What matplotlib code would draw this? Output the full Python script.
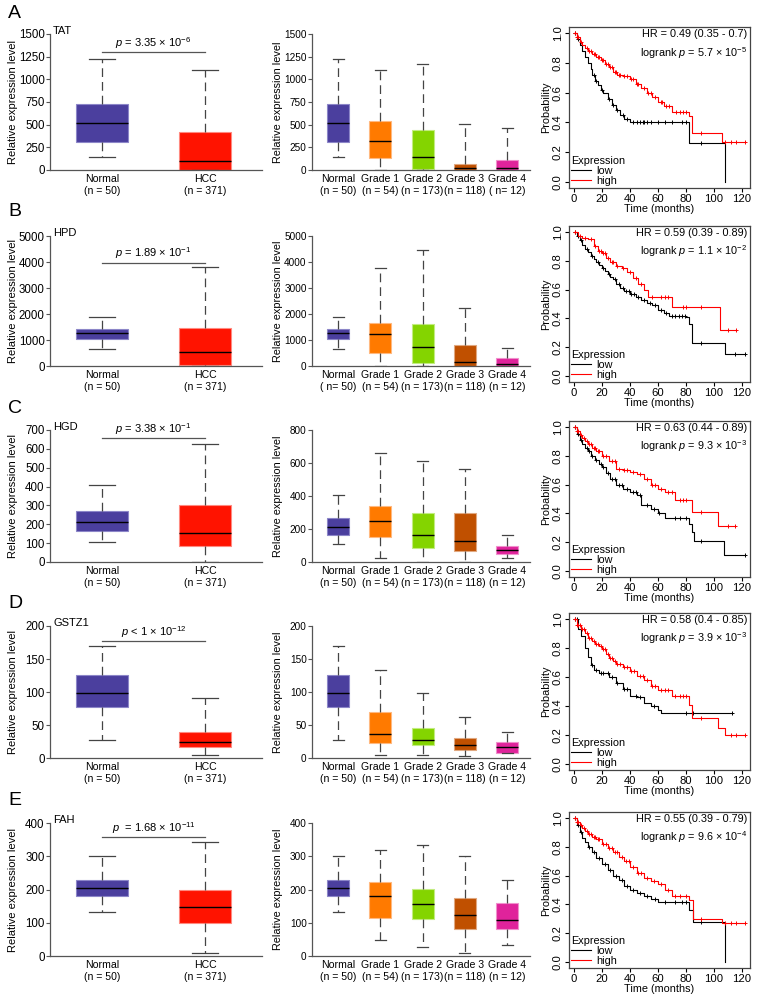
import matplotlib
matplotlib.use("Agg")
import matplotlib.pyplot as plt
from matplotlib.lines import Line2D
import numpy as np

plt.rcParams['font.family'] = ['Liberation Sans', 'DejaVu Sans']
plt.rcParams['mathtext.fontset'] = 'custom'
plt.rcParams['mathtext.rm'] = 'Liberation Sans'
plt.rcParams['mathtext.it'] = 'Liberation Sans:italic'

W, H = 759, 997

# ---------------- data ----------------
panel_letters = ["A", "B", "C", "D", "E"]
genes = ["TAT", "HPD", "HGD", "GSTZ1", "FAH"]

p_texts = [
    r"$p$ = 3.35 × 10$^{-6}$",
    r"$p$ = 1.89 × 10$^{-1}$",
    r"$p$ = 3.38 × 10$^{-1}$",
    r"$p$ < 1 × 10$^{-12}$",
    r"$p$  = 1.68 × 10$^{-11}$",
]
p_line_y = [1300, 3960, 655, 177, 357]

tissue_labels = ["Normal\n(n = 50)", "HCC\n(n = 371)"]
grade_labels = [
    ["Normal\n(n = 50)", "Grade 1\n(n = 54)", "Grade 2\n(n = 173)", "Grade 3\n(n = 118)", "Grade 4\n( n= 12)"],
    ["Normal\n( n= 50)", "Grade 1\n(n = 54)", "Grade 2\n(n = 173)", "Grade 3\n(n = 118)", "Grade 4\n(n = 12)"],
    ["Normal\n(n = 50)", "Grade 1\n(n = 54)", "Grade 2\n(n = 173)", "Grade 3\n(n = 118)", "Grade 4\n(n = 12)"],
    ["Normal\n(n = 50)", "Grade 1\n(n = 54)", "Grade 2\n(n = 173)", "Grade 3\n(n = 118)", "Grade 4\n(n = 12)"],
    ["Normal\n(n = 50)", "Grade 1\n(n = 54)", "Grade 2\n(n = 173)", "Grade 3\n(n = 118)", "Grade 4\n(n = 12)"],
]

# box stats: (whislo, q1, median, q3, whishi)
tat_tissue = [(145, 305, 515, 725, 1225), (0, 0, 100, 415, 1100)]
tat_grade = [(145, 305, 515, 725, 1225), (0, 130, 315, 545, 1100), (0, 15, 140, 445, 1165),
             (0, 0, 25, 70, 505), (0, 0, 20, 110, 460)]
hpd_tissue = [(670, 1030, 1260, 1420, 1890), (0, 40, 530, 1480, 3800)]
hpd_grade = [(670, 1030, 1260, 1420, 1890), (0, 500, 1220, 1640, 3760), (0, 130, 720, 1610, 4450),
             (0, 0, 170, 820, 2240), (0, 0, 90, 295, 700)]
hgd_tissue = [(105, 163, 211, 271, 410), (0, 87, 156, 300, 624)]
hgd_grade = [(107, 163, 213, 267, 408), (22, 153, 251, 342, 659), (0, 84, 165, 297, 613),
             (0, 66, 125, 297, 563), (26, 48, 72, 100, 163)]
gstz1_tissue = [(27, 78, 99, 126, 170), (4, 16, 25, 39, 91)]
gstz1_grade = [(27, 78, 99, 126, 170), (4, 23, 37, 70, 133), (4, 19, 27, 46, 98),
               (3, 12, 19, 31, 62), (7, 8, 17, 24, 40)]
fah_tissue = [(133, 179, 205, 229, 300), (8, 98, 147, 198, 343)]
fah_grade = [(133, 179, 206, 230, 302), (47, 115, 181, 224, 318), (26, 111, 157, 202, 335),
             (8, 82, 123, 175, 300), (33, 82, 109, 159, 230)]

tissue_stats = [tat_tissue, hpd_tissue, hgd_tissue, gstz1_tissue, fah_tissue]
grade_stats = [tat_grade, hpd_grade, hgd_grade, gstz1_grade, fah_grade]

tissue_ymax = [1500, 5000, 700, 200, 400]
tissue_ystep = [250, 1000, 100, 50, 100]
grade_ymax = [1500, 5000, 800, 200, 400]
grade_ystep = [250, 1000, 200, 50, 100]

tissue_colors = ["#4B3F9E", "#FF1300"]
tissue_edges = ["#8C86C8", "#FF8A80"]
grade_colors = ["#4B3F9E", "#FF7A00", "#84D400", "#C05000", "#E0239B"]
grade_edges = ["#8C86C8", "#FFB980", "#C2EC80", "#E0A880", "#F090CC"]

# Kaplan-Meier curves: step times / survival, censor times
hr_texts = ["HR = 0.49 (0.35 - 0.7)", "HR = 0.59 (0.39 - 0.89)", "HR = 0.63 (0.44 - 0.89)",
            "HR = 0.58 (0.4 - 0.85)", "HR = 0.55 (0.39 - 0.79)"]
lr_texts = [r"logrank $p$ = 5.7 × 10$^{-5}$", r"logrank $p$ = 1.1 × 10$^{-2}$",
            r"logrank $p$ = 9.3 × 10$^{-3}$", r"logrank $p$ = 3.9 × 10$^{-3}$",
            r"logrank $p$ = 9.6 × 10$^{-4}$"]

tat_low_t = [0, 2, 4, 6, 8, 10, 12, 13, 15, 17, 19, 21, 24, 27, 30, 33, 36, 40, 82, 108]
tat_low_s = [1.0, 0.96, 0.92, 0.88, 0.84, 0.80, 0.76, 0.72, 0.68, 0.65, 0.62, 0.60, 0.56, 0.52,
             0.48, 0.45, 0.42, 0.40, 0.26, 0.0]
tat_low_c = [1, 3, 14, 16, 20, 25, 28, 31, 35, 38, 42, 45, 47, 49, 50, 52, 55, 60, 65, 70, 77, 80, 91]
tat_high_t = [0, 2, 4, 6, 8, 10, 13, 16, 19, 22, 25, 28, 31, 35, 40, 44, 48, 52, 56, 60, 64, 70,
              82, 84, 106, 122]
tat_high_s = [1.0, 0.97, 0.94, 0.92, 0.90, 0.88, 0.86, 0.84, 0.82, 0.79, 0.77, 0.74, 0.72, 0.71,
              0.69, 0.66, 0.63, 0.60, 0.57, 0.54, 0.51, 0.47, 0.44, 0.33, 0.27, 0.27]
tat_high_c = [1, 2, 3, 5, 9, 11, 12, 14, 15, 17, 18, 20, 21, 23, 24, 26, 27, 29, 30, 32, 33, 36,
              38, 41, 42, 45, 46, 50, 53, 55, 58, 62, 63, 66, 68, 73, 76, 78, 80, 91, 108, 112, 116, 122]

hpd_low_t = [0, 2, 4, 6, 8, 10, 12, 14, 16, 18, 20, 22, 24, 26, 28, 30, 33, 36, 40, 44, 48, 52,
             56, 60, 64, 68, 80, 82, 84, 108, 122]
hpd_low_s = [1.0, 0.97, 0.94, 0.91, 0.88, 0.86, 0.83, 0.81, 0.79, 0.77, 0.75, 0.73, 0.71, 0.69,
             0.67, 0.64, 0.61, 0.59, 0.57, 0.55, 0.53, 0.51, 0.49, 0.46, 0.44, 0.42, 0.41, 0.36,
             0.23, 0.155, 0.155]
hpd_low_c = [1, 3, 5, 9, 13, 17, 21, 25, 29, 32, 35, 37, 39, 41, 43, 46, 50, 54, 58, 62, 66, 70,
             72, 75, 77, 79, 91, 115, 122]
hpd_high_t = [0, 3, 6, 10, 14, 17, 20, 23, 26, 30, 34, 38, 42, 46, 50, 53, 70, 104, 116]
hpd_high_s = [1.0, 0.97, 0.96, 0.95, 0.90, 0.87, 0.85, 0.82, 0.79, 0.76, 0.75, 0.72, 0.68, 0.64,
              0.60, 0.55, 0.48, 0.32, 0.32]
hpd_high_c = [1, 4, 8, 12, 15, 18, 19, 21, 22, 24, 27, 28, 31, 35, 40, 44, 48, 56, 62, 65, 67,
              78, 80, 91, 110, 116]

hgd_low_t = [0, 2, 4, 6, 8, 10, 12, 15, 18, 20, 23, 26, 30, 35, 40, 45, 48, 55, 60, 65, 82, 84,
             86, 107, 122]
hgd_low_s = [1.0, 0.95, 0.91, 0.88, 0.85, 0.83, 0.80, 0.77, 0.74, 0.72, 0.68, 0.64, 0.60, 0.57,
             0.55, 0.53, 0.46, 0.43, 0.40, 0.37, 0.33, 0.27, 0.21, 0.11, 0.11]
hgd_low_c = [1, 3, 5, 9, 11, 13, 16, 19, 21, 24, 27, 29, 32, 34, 38, 42, 44, 47, 52, 57, 61, 72,
             76, 80, 91, 122]
hgd_high_t = [0, 2, 4, 6, 8, 10, 13, 16, 20, 25, 30, 35, 40, 45, 50, 55, 60, 65, 72, 84, 103, 115]
hgd_high_s = [1.0, 0.97, 0.94, 0.92, 0.90, 0.88, 0.85, 0.83, 0.80, 0.76, 0.71, 0.70, 0.69, 0.67,
              0.64, 0.60, 0.57, 0.55, 0.49, 0.41, 0.31, 0.31]
hgd_high_c = [1, 2, 3, 5, 7, 9, 11, 12, 14, 15, 17, 18, 21, 23, 27, 29, 32, 36, 38, 42, 47, 52,
              56, 58, 62, 67, 70, 76, 78, 80, 91, 110, 115]

gstz1_low_t = [0, 3, 5, 8, 10, 12, 14, 18, 25, 30, 35, 40, 45, 50, 55, 60, 62, 113]
gstz1_low_s = [1.0, 0.93, 0.88, 0.80, 0.74, 0.68, 0.65, 0.63, 0.60, 0.56, 0.52, 0.47, 0.46, 0.42,
               0.40, 0.37, 0.35, 0.35]
gstz1_low_c = [1, 2, 13, 16, 19, 21, 24, 27, 31, 36, 38, 44, 47, 57, 80, 85, 113]
gstz1_high_t = [0, 2, 5, 8, 10, 13, 15, 18, 20, 23, 25, 28, 30, 35, 40, 45, 50, 55, 60, 70, 82,
                84, 103, 108, 122]
gstz1_high_s = [1.0, 0.96, 0.93, 0.90, 0.87, 0.85, 0.83, 0.81, 0.79, 0.76, 0.73, 0.71, 0.69, 0.67,
                0.64, 0.61, 0.58, 0.54, 0.51, 0.47, 0.41, 0.32, 0.25, 0.20, 0.20]
gstz1_high_c = [1, 2, 3, 4, 6, 7, 9, 11, 12, 14, 16, 17, 19, 21, 22, 24, 26, 27, 29, 31, 33, 36,
                38, 41, 43, 47, 49, 52, 56, 58, 62, 65, 67, 72, 76, 78, 80, 91, 112, 116, 122]

fah_low_t = [0, 2, 4, 6, 8, 10, 13, 16, 20, 24, 28, 32, 36, 40, 45, 50, 55, 60, 82, 85, 108]
fah_low_s = [1.0, 0.95, 0.90, 0.86, 0.83, 0.80, 0.76, 0.72, 0.68, 0.64, 0.60, 0.57, 0.53, 0.50,
             0.48, 0.46, 0.44, 0.42, 0.36, 0.28, 0.0]
fah_low_c = [1, 3, 5, 11, 14, 18, 22, 26, 30, 34, 38, 42, 47, 52, 58, 65, 72, 77, 80, 91]
fah_high_t = [0, 2, 4, 6, 8, 10, 13, 16, 20, 24, 28, 32, 36, 40, 45, 50, 55, 60, 65, 70, 82, 85,
              106, 122]
fah_high_s = [1.0, 0.97, 0.95, 0.93, 0.91, 0.89, 0.87, 0.85, 0.82, 0.79, 0.76, 0.73, 0.70, 0.66,
              0.62, 0.58, 0.56, 0.54, 0.50, 0.46, 0.43, 0.30, 0.27, 0.27]
fah_high_c = [1, 2, 3, 5, 7, 9, 11, 12, 14, 15, 17, 18, 21, 23, 25, 27, 29, 31, 34, 37, 39, 42,
              46, 48, 52, 57, 62, 67, 72, 76, 80, 91, 108, 112, 116, 122]

km_low = [(tat_low_t, tat_low_s, tat_low_c), (hpd_low_t, hpd_low_s, hpd_low_c),
          (hgd_low_t, hgd_low_s, hgd_low_c), (gstz1_low_t, gstz1_low_s, gstz1_low_c),
          (fah_low_t, fah_low_s, fah_low_c)]
km_high = [(tat_high_t, tat_high_s, tat_high_c), (hpd_high_t, hpd_high_s, hpd_high_c),
           (hgd_high_t, hgd_high_s, hgd_high_c), (gstz1_high_t, gstz1_high_s, gstz1_high_c),
           (fah_high_t, fah_high_s, fah_high_c)]

# ---------------- layout (pixels) ----------------
box_rows = [(34, 170), (236, 366), (430, 562), (626, 758), (823, 956)]
km_rows = [(27, 188), (226, 382), (421, 577), (613, 770), (812, 968)]
letter_y = [14, 212, 408, 604, 800]

FSX = 7.6     # category labels
FSL = 8.0     # axis labels / annotations
FSK = 7.8     # survival panels
spine_col = "#555555"


def px_axes(fig, left, top, right, bottom):
    return fig.add_axes([left / W, 1 - bottom / H, (right - left) / W, (bottom - top) / H])


def draw_boxes(ax, stats, labels, colors, edges, width, label_x, ytick_fs, ylab_fs):
    bx = []
    for (lo, q1, med, q3, hi), lab in zip(stats, labels):
        bx.append(dict(whislo=lo, q1=q1, med=med, q3=q3, whishi=hi, label=lab, fliers=[]))
    pos = np.arange(1, len(stats) + 1)
    res = ax.bxp(bx, positions=pos, widths=width, patch_artist=True, showfliers=False,
                 medianprops=dict(color="black", lw=1.0),
                 whiskerprops=dict(color="#444444", lw=0.9, dashes=(7, 4)),
                 capprops=dict(color="#444444", lw=0.9))
    for patch, fc, ec in zip(res["boxes"], colors, edges):
        patch.set_facecolor(fc)
        patch.set_edgecolor(ec)
        patch.set_linewidth(0.8)
    ax.spines["top"].set_visible(False)
    ax.spines["right"].set_visible(False)
    for s in ("left", "bottom"):
        ax.spines[s].set_color(spine_col)
        ax.spines[s].set_linewidth(0.9)
    ax.tick_params(axis="x", length=0, labelsize=FSX, pad=3)
    ax.tick_params(axis="y", length=3, width=0.8, color=spine_col, labelsize=ytick_fs, pad=0.8)
    ax.set_ylabel("Relative expression level", fontsize=ylab_fs)
    ax.yaxis.set_label_coords(label_x, 0.5)


def draw_km(ax, curve, color):
    t, s, c = curve
    t = np.asarray(t, float)
    s = np.asarray(s, float)
    ax.step(t, s, where="post", color=color, lw=0.8)
    idx = np.searchsorted(t, c, side="right") - 1
    ax.plot(c, s[idx], "+", color=color, ms=3.5, mew=0.7)


fig = plt.figure(figsize=(W / 100, H / 100), dpi=100)

for i in range(5):
    top, bottom = box_rows[i]

    # tissue boxplot
    ax = px_axes(fig, 50, top, 262, bottom)
    draw_boxes(ax, tissue_stats[i], tissue_labels, tissue_colors, tissue_edges, 0.5, -0.151,
               8.3, FSL)
    ax.set_xlim(0.495, 2.55)
    ax.set_ylim(0, tissue_ymax[i])
    ax.set_yticks(np.arange(0, tissue_ymax[i] + 1, tissue_ystep[i]))
    ax.plot([1, 2], [p_line_y[i], p_line_y[i]], color="#555555", lw=0.9)
    ax.text(1.5, p_line_y[i] + tissue_ymax[i] * 0.012, p_texts[i], ha="center", va="bottom",
            fontsize=FSL)
    ax.text(0.015, 0.985, genes[i], transform=ax.transAxes, ha="left", va="bottom", fontsize=FSL)

    # grade boxplot
    ax2 = px_axes(fig, 312, top, 530, bottom)
    draw_boxes(ax2, grade_stats[i], grade_labels[i], grade_colors, grade_edges, 0.52, -0.135,
               7.2, 7.8)
    ax2.set_xlim(0.385, 5.54)
    ax2.set_ylim(0, grade_ymax[i])
    ax2.set_yticks(np.arange(0, grade_ymax[i] + 1, grade_ystep[i]))

    # Kaplan-Meier
    ktop, kbot = km_rows[i]
    ax3 = px_axes(fig, 569, ktop, 750, kbot)
    draw_km(ax3, km_low[i], "black")
    draw_km(ax3, km_high[i], "red")
    ax3.set_xlim(-3.6, 125.7)
    ax3.set_ylim(-0.04, 1.04)
    ax3.set_xticks(np.arange(0, 121, 20))
    ax3.set_yticks(np.arange(0, 1.01, 0.2))
    ax3.set_yticklabels(["0.0", "0.2", "0.4", "0.6", "0.8", "1.0"], rotation=90, va="center")
    for s in ax3.spines.values():
        s.set_color("#444444")
        s.set_linewidth(0.9)
    ax3.tick_params(length=3, width=0.8, labelsize=FSK + 0.3, pad=1.5)
    ax3.set_xlabel("Time (months)", fontsize=FSK, labelpad=0)
    ax3.set_ylabel("Probability", fontsize=FSK, labelpad=1)
    ax3.text(0.985, 0.985, hr_texts[i], transform=ax3.transAxes, ha="right", va="top", fontsize=FSK)
    ax3.text(0.985, 0.89, lr_texts[i], transform=ax3.transAxes, ha="right", va="top", fontsize=FSK)
    handles = [Line2D([], [], color="black", lw=0.8), Line2D([], [], color="red", lw=0.8)]
    ax3.legend(handles, ["low", "high"], title="Expression", loc="lower left", frameon=False,
               fontsize=FSK, title_fontsize=FSK, handlelength=1.8, labelspacing=0.0,
               borderaxespad=0.1, borderpad=0.1, handletextpad=0.5, alignment="left")

    fig.text(8 / W, 1 - letter_y[i] / H, panel_letters[i], fontsize=14, ha="left", va="center")

fig.savefig("out.png", dpi=100)
